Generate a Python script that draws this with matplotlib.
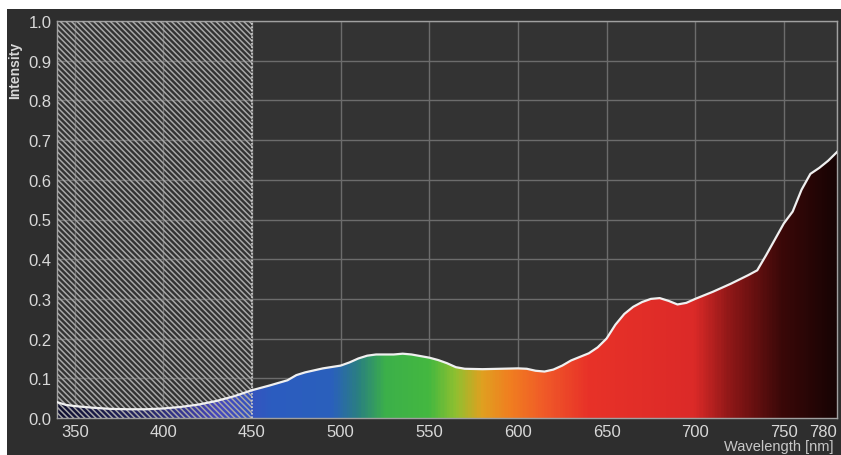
import numpy as np
import matplotlib
matplotlib.use("Agg")
from matplotlib import pyplot as plt
from matplotlib.colors import LinearSegmentedColormap
from matplotlib.patches import Polygon, Rectangle

# Spectrum
wavelength = [340, 345, 350, 360, 370, 380, 390, 400, 410, 420, 430, 440, 450,
              460, 470, 475, 480, 490, 500, 505, 510, 515, 520, 530, 535, 540,
              545, 550, 555, 560, 565, 570, 580, 590, 600, 605, 610, 615, 620,
              625, 630, 640, 645, 650, 655, 660, 665, 670, 675, 680, 685, 690,
              695, 700, 710, 720, 730, 735, 740, 745, 750, 755, 760, 765, 770,
              775, 780]
intensity = [0.040, 0.033, 0.030, 0.026, 0.023, 0.022, 0.022, 0.024, 0.028,
             0.034, 0.043, 0.055, 0.070, 0.082, 0.095, 0.108, 0.115, 0.125,
             0.132, 0.140, 0.150, 0.157, 0.160, 0.160, 0.162, 0.160, 0.156,
             0.152, 0.146, 0.138, 0.128, 0.124, 0.123, 0.124, 0.125, 0.124,
             0.119, 0.117, 0.122, 0.132, 0.145, 0.163, 0.178, 0.200, 0.235,
             0.262, 0.280, 0.292, 0.300, 0.302, 0.295, 0.286, 0.290, 0.300,
             0.318, 0.338, 0.360, 0.372, 0.410, 0.450, 0.490, 0.520, 0.575,
             0.615, 0.630, 0.648, 0.670]

# spectral colour stops (nm, colour)
color_nm = [340, 390, 430, 460, 495, 510, 525, 550, 565, 580, 595, 615, 640,
            700, 720, 750, 780]
color_hex = ["#101030", "#262664", "#4646bc", "#2c5cc0", "#2a60bc", "#2a8080",
             "#3cb04a", "#44b840", "#90c030", "#e0a020", "#f08020", "#f05a28",
             "#e83228", "#dc2a28", "#901818", "#3a0808", "#180404"]

xticks = [350, 400, 450, 500, 550, 600, 650, 700, 750, 780]
yticks = [0.0, 0.1, 0.2, 0.3, 0.4, 0.5, 0.6, 0.7, 0.8, 0.9, 1.0]

W, H = 841, 456
fig = plt.figure(figsize=(W / 100, H / 100), dpi=100, facecolor="white")
fig.add_artist(Rectangle((7 / W, 0), 1 - 7 / W, (H - 10) / H,
                         transform=fig.transFigure, facecolor="#2e2e2e",
                         edgecolor="none", zorder=0))

ax = fig.add_axes([57 / W, (H - 419) / H, (837 - 57) / W, (419 - 22) / H])
ax.set_facecolor("#333333")
ax.set_xlim(340, 780)
ax.set_ylim(0, 1)

# gradient fill clipped under the curve
pos = [(c - 340) / 440 for c in color_nm]
cmap = LinearSegmentedColormap.from_list("spec", list(zip(pos, color_hex)))
grad = np.linspace(0, 1, 600).reshape(1, -1)
im = ax.imshow(grad, cmap=cmap, extent=[340, 780, 0, 1], aspect="auto",
               origin="lower", zorder=2, interpolation="bilinear")
verts = list(zip(wavelength, intensity)) + [(780, 0), (340, 0)]
clip = Polygon(verts, closed=True, facecolor="none", edgecolor="none",
               transform=ax.transData)
ax.add_patch(clip)
im.set_clip_path(clip)

ax.plot(wavelength, intensity, color="#f0f0f0", lw=1.6, zorder=4)

# hatched region
plt.rcParams["hatch.linewidth"] = 1.1
ax.fill_between([340, 450], 0, 1, facecolor="none", edgecolor="#a8a8a8",
                hatch="\\" * 6, linewidth=0, zorder=3)
ax.axvline(450, color="#cfcfcf", lw=1.2, ls=(0, (1, 1)), zorder=3)

ax.set_xticks(xticks)
ax.set_yticks(yticks)
ax.set_xticklabels([str(t) for t in xticks])
ax.set_yticklabels(["%.1f" % t for t in yticks])
ax.grid(True, color="#6c6c6c", lw=1.0, zorder=1)
ax.set_axisbelow(True)
ax.tick_params(length=0, colors="#d8d8d8", labelsize=12, pad=4)
for lab in ax.get_xticklabels() + ax.get_yticklabels():
    lab.set_family("Liberation Sans")
ax.get_xticklabels()[-1].set_horizontalalignment("right")
for s in ax.spines.values():
    s.set_color("#a0a0a0")
    s.set_linewidth(1.0)

fig.text(15 / W, 1 - 70 / H, "Intensity", rotation=90, ha="center",
         va="center", color="#d8d8d8", fontsize=10, weight="bold",
         family="Liberation Sans")
fig.text(834 / W, 1 - 447 / H, "Wavelength [nm]", ha="right", va="center",
         color="#c8c8c8", fontsize=10.5, family="Liberation Sans")

fig.savefig("out.png", dpi=100, facecolor=fig.get_facecolor())
